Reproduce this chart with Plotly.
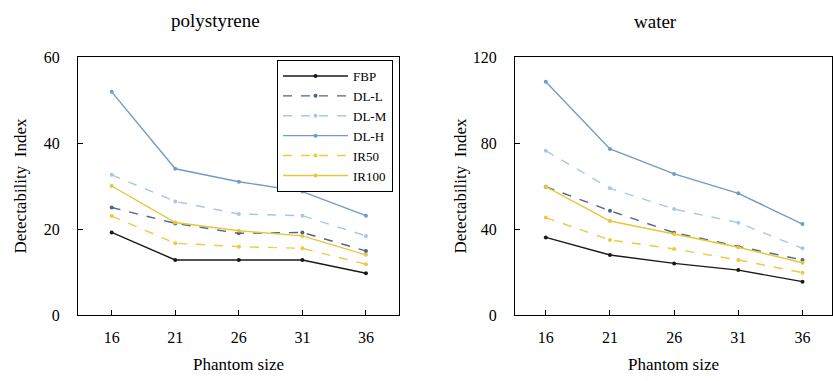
import plotly.graph_objects as go

sizes = ["16", "21", "26", "31", "36"]
methods = ["FBP", "DL-L", "DL-M", "DL-H", "IR50", "IR100"]

poly = {
    "FBP":   [19.2, 12.8, 12.8, 12.8, 9.7],
    "DL-L":  [25.0, 21.3, 19.0, 19.2, 14.9],
    "DL-M":  [32.6, 26.4, 23.5, 23.1, 18.4],
    "DL-H":  [51.9, 34.0, 31.0, 28.7, 23.1],
    "IR50":  [23.0, 16.7, 15.9, 15.5, 11.8],
    "IR100": [30.0, 21.5, 19.6, 18.4, 14.0],
}
water = {
    "FBP":   [36.1, 27.9, 24.0, 20.9, 15.5],
    "DL-L":  [59.7, 48.5, 38.3, 31.8, 25.6],
    "DL-M":  [76.4, 58.9, 49.3, 42.9, 31.0],
    "DL-H":  [108.5, 77.2, 65.6, 56.6, 42.3],
    "IR50":  [45.3, 34.9, 30.7, 25.6, 19.7],
    "IR100": [59.7, 43.7, 37.7, 31.5, 24.3],
}

styles = {
    "FBP":   dict(color="#1a1a1a", dash="solid"),
    "DL-L":  dict(color="#4a6688", dash="dash"),
    "DL-M":  dict(color="#a9c6e4", dash="dash"),
    "DL-H":  dict(color="#729cc6", dash="solid"),
    "IR50":  dict(color="#f2c744", dash="dash"),
    "IR100": dict(color="#e8c53a", dash="solid"),
}

font = "Liberation Serif"
fig = go.Figure()
for m in methods:
    st = styles[m]
    fig.add_trace(go.Scatter(x=sizes, y=poly[m], name=m, mode="lines+markers",
                             line=dict(color=st["color"], dash=st["dash"], width=1.4),
                             marker=dict(size=4, color=st["color"]),
                             xaxis="x", yaxis="y", showlegend=True))
for m in methods:
    st = styles[m]
    fig.add_trace(go.Scatter(x=sizes, y=water[m], name=m, mode="lines+markers",
                             line=dict(color=st["color"], dash=st["dash"], width=1.4),
                             marker=dict(size=4, color=st["color"]),
                             xaxis="x2", yaxis="y2", showlegend=False))

axis_common = dict(showline=True, linecolor="black", linewidth=1, mirror=True,
                   ticks="inside", ticklen=5, tickcolor="black", showgrid=False,
                   zeroline=False, automargin=False,
                   tickfont=dict(family=font, size=16, color="black"))
title_font = dict(family=font, size=17, color="black")

fig.update_layout(
    width=833, height=381, margin=dict(l=0, r=0, t=0, b=0, autoexpand=False),
    paper_bgcolor="white", plot_bgcolor="white",
    font=dict(family=font, color="black"),
    xaxis=dict(domain=[78/833, 399/833], type="category", range=[-0.53, 4.52],
               title=dict(text="Phantom size", font=title_font, standoff=12),
               ticklabelstandoff=8, anchor="y", **axis_common),
    yaxis=dict(domain=[66/381, 324/381], range=[0, 60], tickvals=[0, 20, 40, 60],
               title=dict(text="Detectability  Index", font=title_font, standoff=12),
               ticklabelstandoff=14, anchor="x", **axis_common),
    xaxis2=dict(domain=[515/833, 832/833], type="category", range=[-0.48, 4.46],
                title=dict(text="Phantom size", font=title_font, standoff=12),
                ticklabelstandoff=8, anchor="y2", **axis_common),
    yaxis2=dict(domain=[66/381, 324/381], range=[0, 120], tickvals=[0, 40, 80, 120],
                title=dict(text="Detectability  Index", font=title_font, standoff=1),
                ticklabelstandoff=14, anchor="x2", **axis_common),
    legend=dict(x=393/833, y=(381-60)/381, xanchor="right", yanchor="top",
                bordercolor="black", borderwidth=1, bgcolor="white",
                font=dict(family=font, size=13), tracegroupgap=0, itemwidth=65),
    annotations=[
        dict(text="polystyrene", x=215/833, y=(381-20)/381, xref="paper", yref="paper",
             xanchor="center", yanchor="middle",
             showarrow=False, font=dict(family=font, size=19)),
        dict(text="water", x=655/833, y=(381-22)/381, xref="paper", yref="paper",
             xanchor="center", yanchor="middle",
             showarrow=False, font=dict(family=font, size=19)),
    ],
)

fig.write_html("out.html")
